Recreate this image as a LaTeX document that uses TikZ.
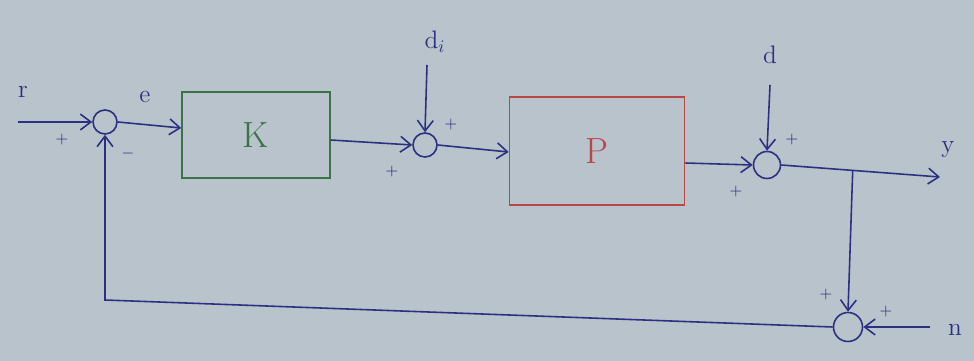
\documentclass[tikz,border=0pt]{standalone}
\usetikzlibrary{arrows.meta,calc}
\definecolor{paper}{HTML}{B8C3CC}
\definecolor{ink}{HTML}{2B3080}
\definecolor{kgreen}{HTML}{3C7248}
\definecolor{pred}{HTML}{B8474A}
\begin{document}
\begin{tikzpicture}[x=0.02cm,y=-0.02cm,
  sumnode/.style={circle,draw=ink,line width=0.9pt,inner sep=0pt,minimum size=#1},
  blockbox/.style={draw=#1,line width=0.9pt,inner sep=0pt},
  wire/.style={ink,line width=0.9pt},
  arr/.style={wire,-{Straight Barb[length=6pt,width=9pt]}},
  lab/.style={ink,font=\Large},
  sgn/.style={ink,font=\small}]
\fill[paper] (0,0) rectangle (974,361);
\useasboundingbox (0,0) rectangle (974,361);
% summing junctions
\node[sumnode=0.48cm] (s1) at (105,122) {};
\node[sumnode=0.48cm] (s2) at (425,145) {};
\node[sumnode=0.54cm] (s3) at (767,165) {};
\node[sumnode=0.58cm] (s4) at (848,327) {};
% blocks
\node[blockbox=kgreen,minimum width=2.96cm,minimum height=1.72cm] (K) at (256,135) {};
\node[kgreen,font=\huge] at (K) {K};
\node[blockbox=pred,minimum width=3.5cm,minimum height=2.16cm] (P) at (597,151) {};
\node[pred,font=\huge] at (P) {P};
% free ends
\coordinate (rin) at (18,122);
\coordinate (diin) at (427,65);
\coordinate (din) at (770,85);
\coordinate (yout) at (940,177);
\coordinate (br) at ($(s3.east)!0.45!(yout)$);
\coordinate (nin) at (930,327);
\coordinate (fbc) at (105,300);
% labels
\node[lab] (rl) at (23,92) {r};
\node[lab] (el) at (145,97) {e};
\node[lab] (dil) at (435,42) {d$_i$};
\node[lab] (dl) at (770,55) {d};
\node[lab] (yl) at (948,150) {y};
\node[lab] (nl) at (955,330) {n};
% signs
\node[sgn] at (62,140) {+};
\node[sgn] at (128,154) {$-$};
\node[sgn] at (392,172) {+};
\node[sgn] at (451,125) {+};
\node[sgn] at (736,192) {+};
\node[sgn] at (792,140) {+};
\node[sgn] at (826,295) {+};
\node[sgn] at (886,312) {+};
% connectors
\draw[arr] (rin) -- (s1.west);
\draw[arr] (s1.east) -- (K.west |- 0,128);
\draw[arr] (K.east |- 0,140) -- (s2.west);
\draw[arr] (diin) -- (s2.north);
\draw[arr] (s2.east) -- (P.west |- 0,152);
\draw[arr] (P.east |- 0,163) -- (s3.west);
\draw[arr] (din) -- (s3.north);
\draw[arr] (s3.east) -- (yout);
\draw[arr] (br) -- (s4.north);
\draw[arr] (nin) -- (s4.east);
\draw[arr] (s4.west) -- (fbc) -- (s1.south);
\end{tikzpicture}
\end{document}
